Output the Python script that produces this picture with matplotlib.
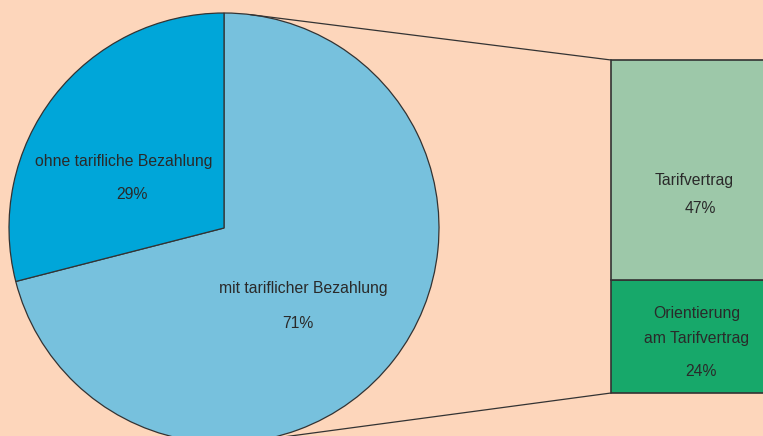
import numpy as np
import matplotlib.pyplot as plt

# data
pie_labels = ["mit tariflicher Bezahlung", "ohne tarifliche Bezahlung"]
pie_values = [71, 29]
bar_labels = ["Orientierung\nam Tarifvertrag", "Tarifvertrag"]
bar_values = [24, 47]

bg = "#FDD6BB"
pie_colors = ["#77C1DD", "#00A6D9"]
bar_colors = ["#17A86A", "#9DC8A9"]
edge = "#333333"
txt = "#2a2a2a"

plt.rcParams['font.family'] = ['Liberation Sans', 'DejaVu Sans']

fig = plt.figure(figsize=(7.63, 4.36), dpi=100, facecolor=bg)
ax = fig.add_axes([0, 0, 1, 1])
ax.set_facecolor(bg)

# pie geometry (pixel-like data units)
cx, cy, r = 224, 208, 215
ax.pie(pie_values, startangle=90, counterclock=False, center=(cx, cy), radius=r,
       colors=pie_colors, wedgeprops=dict(edgecolor=edge, linewidth=0.9))

# stacked bar for the 71% slice
bar_x, bar_w, bar_bottom = 611, 200, 43
scale = 333 / sum(bar_values)
bottom = bar_bottom
for v, c in zip(bar_values, bar_colors):
    ax.bar(bar_x, v * scale, width=bar_w, bottom=bottom, align='edge',
           color=c, edgecolor=edge, linewidth=1.2)
    bottom += v * scale
bar_top = bottom

# tangent lines from bar corners to the circle
def tangent_point(px, py, upper):
    dx, dy = px - cx, py - cy
    d = np.hypot(dx, dy)
    base = np.arctan2(dy, dx)
    off = np.arccos(r / d)
    a = base + off if upper else base - off
    return cx + r * np.cos(a), cy + r * np.sin(a)

tx, ty = tangent_point(bar_x, bar_top, True)
ax.plot([tx, bar_x], [ty, bar_top], color=edge, lw=0.9)
bx, by = tangent_point(bar_x, bar_bottom, False)
ax.plot([bx, bar_x], [by, bar_bottom], color=edge, lw=0.9)

fs = 11.3
# pie labels
ax.text(124, 436 - 161, pie_labels[1], ha='center', va='center', fontsize=fs, color=txt)
ax.text(132, 436 - 194, f"{pie_values[1]}%", ha='center', va='center', fontsize=fs, color=txt)
ax.text(303, 436 - 288, pie_labels[0], ha='center', va='center', fontsize=fs, color=txt)
ax.text(298, 436 - 324, f"{pie_values[0]}%", ha='center', va='center', fontsize=fs, color=txt)

# bar labels
ax.text(694, 436 - 180, bar_labels[1], ha='center', va='center', fontsize=fs, color=txt)
ax.text(700, 436 - 208, f"{bar_values[1]}%", ha='center', va='center', fontsize=fs, color=txt)
ax.text(697, 436 - 326, bar_labels[0], ha='center', va='center', fontsize=fs, color=txt,
        linespacing=1.85)
ax.text(701, 436 - 371, f"{bar_values[0]}%", ha='center', va='center', fontsize=fs, color=txt)

ax.set_xlim(0, 763)
ax.set_ylim(0, 436)
ax.set_aspect('equal')
ax.axis('off')

fig.savefig("out.png", dpi=100, facecolor=bg)
